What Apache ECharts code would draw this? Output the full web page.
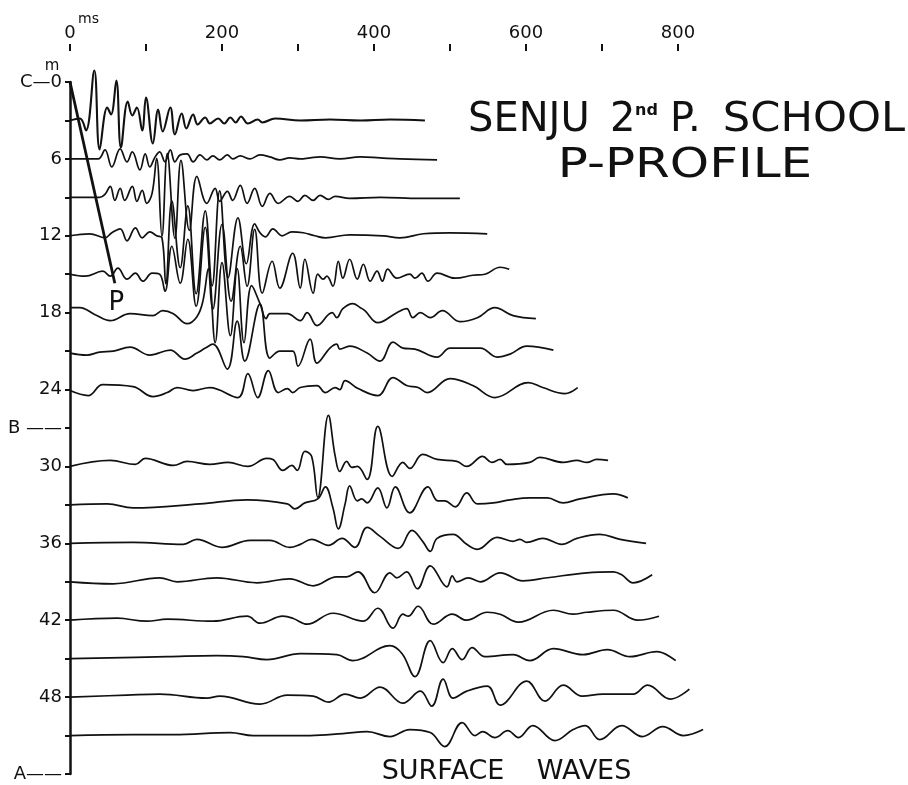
<!DOCTYPE html>
<html>
<head>
<meta charset="utf-8">
<script src="https://cdn.jsdelivr.net/npm/echarts@6/dist/echarts.min.js"></script>
<style>
  html, body { margin: 0; padding: 0; background: #fff; }
  #chart { width: 908px; height: 785px; }
</style>
</head>
<body>
<div id="chart"></div>
<script>
// [time ms, amplitude], amplitude positive = upward
const trace03 = [[0,0],[13,2],[21,-10],[32,50],[39,-29],[49,13],[54,6],[61,40],[67,-27],[76,19],[82,5],[88,13],[95,-10],[100,23],[109,-23],[116,11],[122,-11],[132,13],[138,-14],[147,7],[153,-8],[162,6],[168,-4],[178,3],[184,-3],[195,2],[203,-3],[211,3],[218,-2],[225,4],[234,-3],[247,1],[253,-2],[270,2],[303,0],[342,1],[382,0],[421,1],[467,0]];
const trace06 = [[0,0],[37,0],[46,9],[55,-8],[66,10],[75,-3],[82,7],[92,-11],[99,5],[105,-8],[112,2],[118,7],[125,-3],[132,9],[138,-3],[145,4],[154,5],[162,-3],[171,4],[180,-1],[188,3],[197,-1],[207,4],[214,0],[224,3],[237,0],[250,4],[263,2],[276,-1],[289,1],[303,0],[316,1],[329,2],[355,0],[382,2],[408,1],[434,0],[483,-1]];
const trace09 = [[0,0],[39,0],[46,3],[53,11],[59,-3],[66,9],[72,-3],[82,11],[88,-4],[95,7],[101,-6],[108,4],[114,39],[121,-39],[128,44],[138,-41],[146,37],[157,-33],[167,21],[180,-6],[191,9],[197,-4],[207,6],[214,-3],[224,12],[233,-6],[243,9],[253,-9],[263,4],[274,-6],[289,1],[300,-4],[309,2],[320,-3],[329,2],[340,-2],[349,1],[368,-1],[408,0],[461,-1],[513,-1]];
const trace12 = [[0,0],[26,2],[46,-2],[55,3],[66,7],[75,-5],[86,8],[95,-2],[105,4],[114,0],[121,-2],[126,-48],[134,35],[145,-32],[155,30],[166,-58],[178,25],[187,-50],[197,45],[208,-42],[221,18],[232,-28],[243,12],[250,3],[257,-1],[267,7],[279,0],[292,4],[307,3],[322,0],[336,-2],[368,1],[412,0],[434,-2],[465,2],[500,3],[549,2]];
const trace15 = [[0,0],[20,-2],[43,3],[53,-2],[63,6],[75,-5],[86,1],[96,-7],[108,1],[118,0],[125,-17],[134,28],[145,-9],[155,35],[166,-32],[178,47],[188,-35],[200,50],[212,-27],[224,28],[233,-12],[243,45],[253,-19],[266,13],[276,-14],[293,21],[303,-14],[309,15],[320,-19],[326,0],[333,-5],[338,-2],[346,-12],[353,13],[359,-4],[368,15],[378,-5],[386,10],[395,-7],[404,3],[411,-7],[418,5],[430,-4],[447,0],[454,-4],[463,1],[471,-7],[483,1],[507,-4],[530,-1],[546,0],[566,7],[578,5]];
const trace18 = [[0,5],[13,5],[33,-2],[53,-8],[79,-1],[109,-3],[122,2],[136,-1],[154,-11],[167,-4],[175,12],[182,44],[191,-30],[200,50],[211,-23],[220,44],[229,-30],[239,27],[250,9],[258,-6],[263,-1],[286,-1],[303,-8],[312,0],[325,-13],[345,0],[351,-5],[359,4],[372,9],[382,5],[388,2],[405,-10],[430,0],[443,4],[451,-5],[461,0],[474,-5],[490,2],[513,-9],[536,-5],[559,5],[583,-3],[613,-6]];
const trace21 = [[0,-2],[22,-4],[39,-1],[57,0],[79,4],[105,-4],[132,1],[151,-8],[167,-2],[178,3],[188,7],[207,-18],[220,30],[230,-10],[250,47],[263,-7],[276,0],[293,0],[300,-15],[316,12],[325,-12],[342,3],[351,7],[355,2],[368,5],[391,-2],[408,-10],[425,9],[438,3],[454,2],[483,-6],[500,3],[540,3],[562,-6],[579,-3],[601,5],[636,1]];
const trace24 = [[0,-1],[24,-6],[43,5],[83,3],[109,-7],[128,-3],[141,2],[162,-1],[184,2],[221,-8],[234,16],[247,-8],[261,19],[274,-3],[286,1],[293,-3],[303,2],[325,4],[336,-3],[349,2],[355,0],[362,9],[379,1],[405,-6],[425,12],[443,4],[458,2],[470,-3],[500,11],[530,4],[559,-8],[603,7],[622,2],[651,-4],[668,2]];
const trace30 = [[0,0],[53,6],[86,2],[99,8],[136,1],[154,5],[184,2],[208,4],[234,0],[259,8],[267,7],[280,-4],[292,1],[299,-4],[309,15],[318,10],[326,-31],[340,51],[349,10],[355,-5],[364,5],[371,-1],[378,0],[391,-13],[405,40],[424,-10],[438,4],[447,-2],[464,12],[483,7],[509,5],[522,0],[543,10],[555,4],[566,7],[575,2],[605,4],[618,9],[649,4],[667,6],[680,4],[693,7],[708,6]];
const trace33 = [[0,0],[49,1],[83,-3],[171,1],[233,5],[286,1],[296,-4],[309,2],[326,6],[336,18],[346,-3],[353,-24],[362,1],[368,19],[378,4],[384,6],[391,2],[405,17],[417,-3],[428,18],[447,-8],[471,18],[484,4],[493,4],[507,-2],[522,12],[536,1],[557,2],[579,5],[605,7],[628,7],[649,2],[671,6],[715,11],[734,7]];
const trace36 = [[0,0],[83,1],[149,-1],[167,4],[200,-4],[237,3],[263,3],[289,-4],[303,-1],[318,4],[340,-2],[358,5],[375,-4],[391,16],[408,7],[432,-5],[450,13],[464,2],[474,-8],[483,5],[504,9],[522,-1],[536,-6],[562,6],[583,2],[592,4],[601,1],[622,5],[647,-1],[667,5],[697,9],[724,4],[758,0]];
const trace39 = [[0,0],[57,-2],[118,4],[141,0],[193,4],[246,-1],[289,3],[320,-4],[351,5],[364,5],[379,10],[401,-11],[421,9],[430,4],[443,10],[457,-7],[474,16],[496,-5],[503,6],[509,0],[524,4],[540,0],[566,9],[596,1],[628,4],[680,9],[715,10],[726,7],[741,-1],[766,7]];
const trace42 = [[0,0],[62,2],[101,-1],[128,1],[188,-1],[233,4],[250,-3],[280,4],[293,2],[312,-4],[346,7],[386,-1],[405,12],[425,-8],[438,6],[445,4],[458,14],[478,-4],[503,6],[522,0],[549,8],[566,6],[590,-2],[636,10],[662,6],[680,8],[715,10],[747,0],[775,4]];
const trace45 = [[0,0],[128,2],[193,3],[228,2],[259,-1],[303,5],[351,4],[372,-2],[421,13],[437,5],[454,-18],[474,18],[491,-4],[503,10],[516,-1],[529,11],[546,2],[583,4],[605,-2],[636,10],[675,4],[707,9],[737,2],[772,7],[797,-2]];
const trace48 = [[0,0],[75,2],[118,3],[180,-1],[197,1],[250,-7],[286,2],[320,1],[340,-5],[362,3],[382,-1],[408,10],[438,-6],[461,6],[476,-9],[491,18],[504,-1],[522,6],[549,11],[566,-8],[601,16],[625,-4],[649,12],[674,1],[701,3],[741,3],[760,12],[790,-2],[815,8]];
const trace51 = [[0,0],[83,1],[136,1],[211,3],[241,0],[316,0],[359,2],[391,4],[421,-1],[447,6],[474,3],[493,-11],[516,13],[533,0],[543,4],[559,-2],[576,5],[590,-2],[609,10],[638,-5],[662,6],[678,10],[697,-4],[726,10],[753,-1],[780,9],[807,0],[833,6]];

const depths = [3, 6, 9, 12, 15, 18, 21, 24, 30, 33, 36, 39, 42, 45, 48, 51];
const traces = [trace03, trace06, trace09, trace12, trace15, trace18, trace21, trace24,
                trace30, trace33, trace36, trace39, trace42, trace45, trace48, trace51];

// P arrival line: [time ms, depth m]
const pLine = [[0, 0], [59, 15.7]];

const depthLabels = { 0: 'C—0', 6: '6', 12: '12', 18: '18', 24: '24', 27: 'B ——', 30: '30', 36: '36', 42: '42', 48: '48', 54: 'A——' };

const AMP = 0.078; // metres of depth axis per amplitude unit
const FONT = 'DejaVu Sans';

const chart = echarts.init(document.getElementById('chart'));

const series = traces.map((tr, i) => ({
  type: 'line',
  data: tr.map(p => [p[0], depths[i] - p[1] * AMP]),
  showSymbol: false,
  smooth: 0.4,
  clip: false,
  silent: true,
  lineStyle: { color: '#111', width: i === 0 ? 2.1 : 1.7 }
}));

series.push({
  type: 'line',
  data: pLine,
  showSymbol: false,
  clip: false,
  silent: true,
  lineStyle: { color: '#111', width: 2.8 }
});

var option = {
  animation: false,
  backgroundColor: '#fff',
  grid: [
    { left: 70, top: 82, width: 836, height: 692 },
    // separate strip holding the time scale drawn above the records
    { left: 70, top: 50, width: 608, height: 1 }
  ],
  xAxis: [
    {
      gridIndex: 0, type: 'value', min: 0, max: 1100,
      axisLine: { show: false }, axisTick: { show: false }, axisLabel: { show: false }, splitLine: { show: false }
    },
    {
      gridIndex: 1,
      type: 'value',
      position: 'top',
      min: 0,
      max: 800,
      interval: 100,
      axisLine: { show: false },
      axisTick: { show: true, length: 7, lineStyle: { color: '#111', width: 2 } },
      axisLabel: {
        margin: 8,
        color: '#111',
        fontFamily: FONT,
        fontSize: 18,
        formatter: v => (v % 200 === 0 ? String(v) : '')
      },
      splitLine: { show: false }
    }
  ],
  yAxis: [
    {
      gridIndex: 0,
      type: 'value',
      inverse: true,
      min: 0,
      max: 54,
      interval: 3,
      axisLine: { show: true, lineStyle: { color: '#111', width: 2.5 } },
      axisTick: { show: true, length: 5, lineStyle: { color: '#111', width: 2 } },
      axisLabel: {
        margin: 8,
        color: '#111',
        fontFamily: FONT,
        fontSize: 18,
        formatter: v => depthLabels[v] || ''
      },
      splitLine: { show: false }
    },
    { gridIndex: 1, type: 'value', min: 0, max: 1, show: false }
  ],
  series: series
};

chart.setOption(option);

const pPos = chart.convertToPixel({ gridIndex: 0 }, [61, 17.3]);

chart.setOption({
  graphic: [
    { type: 'text', x: 78, y: 19, style: { text: 'ms', font: '14px ' + FONT, fill: '#111', textVerticalAlign: 'middle' } },
    { type: 'text', x: 52, y: 66, style: { text: 'm', font: '15px ' + FONT, fill: '#111', textAlign: 'center', textVerticalAlign: 'middle' } },
    { type: 'text', x: pPos[0], y: pPos[1], style: { text: 'P', font: '26px ' + FONT, fill: '#111', textAlign: 'center', textVerticalAlign: 'middle' } },
    { type: 'text', x: 468, y: 121, style: { text: 'SENJU', font: '40px ' + FONT, fill: '#111', textVerticalAlign: 'middle' } },
    { type: 'text', x: 610, y: 121, style: { text: '2', font: '40px ' + FONT, fill: '#111', textVerticalAlign: 'middle' } },
    { type: 'text', x: 635, y: 111, style: { text: 'nd', font: 'bold 16px ' + FONT, fill: '#111', textVerticalAlign: 'middle' } },
    { type: 'text', x: 670, y: 121, style: { text: 'P.', font: '40px ' + FONT, fill: '#111', textVerticalAlign: 'middle' } },
    { type: 'text', x: 905, y: 121, scaleX: 1.08, style: { text: 'SCHOOL', font: '40px ' + FONT, fill: '#111', textAlign: 'right', textVerticalAlign: 'middle' } },
    { type: 'text', x: 685, y: 167, scaleX: 1.25, style: { text: 'P-PROFILE', font: '40px ' + FONT, fill: '#111', textAlign: 'center', textVerticalAlign: 'middle' } },
    { type: 'text', x: 443, y: 772, style: { text: 'SURFACE', font: '27px ' + FONT, fill: '#111', textAlign: 'center', textVerticalAlign: 'middle' } },
    { type: 'text', x: 584, y: 772, style: { text: 'WAVES', font: '27px ' + FONT, fill: '#111', textAlign: 'center', textVerticalAlign: 'middle' } }
  ]
});
</script>
</body>
</html>
